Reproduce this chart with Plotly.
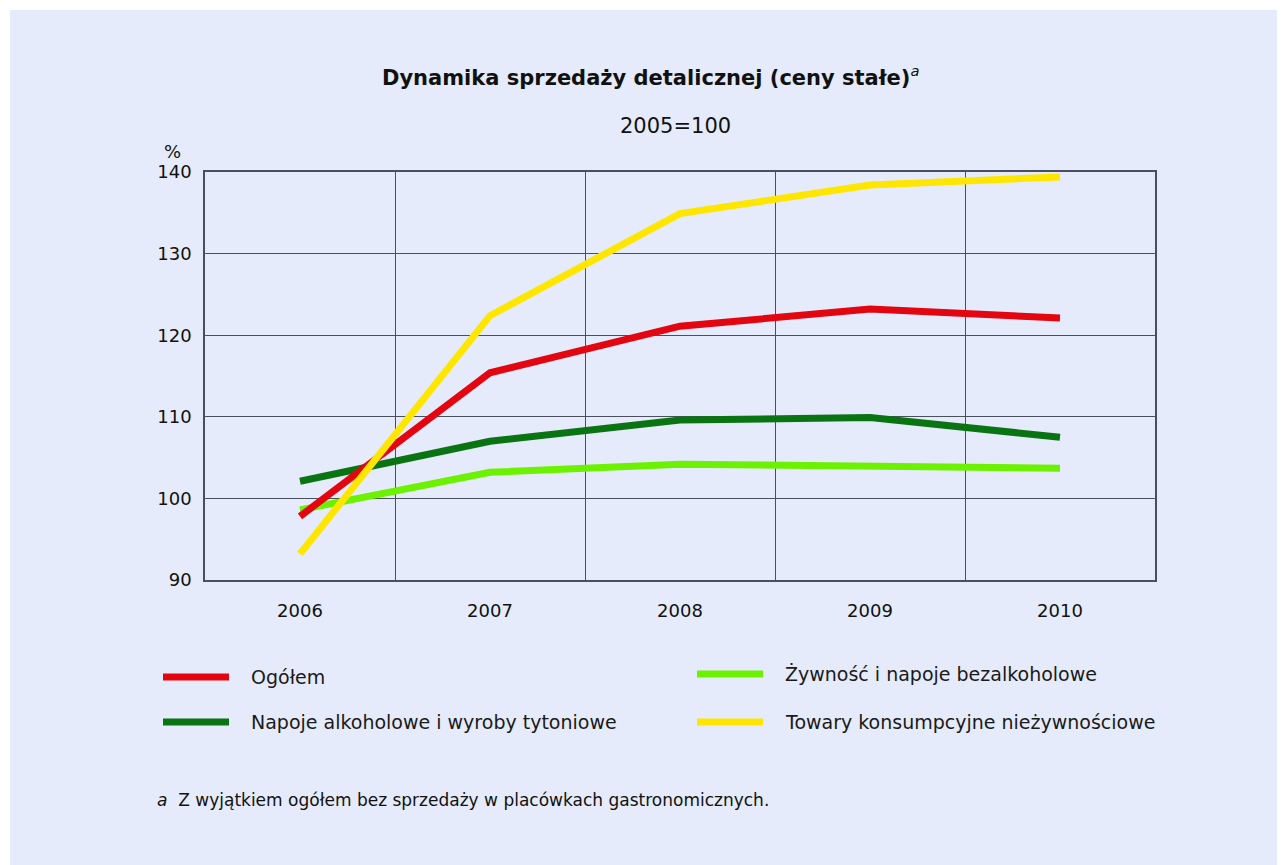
import plotly.graph_objects as go

years = [2006, 2007, 2008, 2009, 2010]
series_names = [
    "Ogółem",
    "Napoje alkoholowe i wyroby tytoniowe",
    "Żywność i napoje bezalkoholowe",
    "Towary konsumpcyjne nieżywnościowe",
]
ogolem = [97.8, 115.4, 121.1, 123.2, 122.1]
napoje_alk = [102.1, 107.0, 109.6, 109.9, 107.5]
zywnosc = [98.6, 103.2, 104.2, 104.0, 103.7]
towary = [93.2, 122.4, 134.9, 138.4, 139.4]
colors = ["#e30611", "#0a7412", "#6cf200", "#ffe600"]

FONT = "DejaVu Sans, Liberation Sans, Arial, sans-serif"
OFF = 8  # page body margin
W, H = 1285, 865
# plot area in screen pixels: x 205..1155, y 172..580
L, T = 205 - OFF, 172 - OFF
R = W - (1155 - OFF)
B = H - (580 - OFF)
PW, PH = W - L - R, H - T - B


def px(x):
    return (x - OFF - L) / PW


def py(y):
    return (H - B - (y - OFF)) / PH


fig = go.Figure()
draw_order = [2, 1, 0, 3]
values = [ogolem, napoje_alk, zywnosc, towary]
for i in draw_order:
    fig.add_trace(go.Scatter(
        x=years, y=values[i], mode="lines", name=series_names[i],
        line=dict(color=colors[i], width=7), showlegend=False,
    ))

shapes = []
annotations = []

# outer background panel
shapes.append(dict(type="rect", xref="paper", yref="paper", layer="below",
                   x0=px(10), x1=px(1280), y0=py(870), y1=py(10),
                   fillcolor="#e5ebfb", line=dict(width=0)))

# manual legend in two columns
legend_pos = [(163, 677), (163, 722), (697, 674), (697, 722)]
for i, (lx, ly) in enumerate(legend_pos):
    shapes.append(dict(type="line", xref="paper", yref="paper",
                       x0=px(lx), x1=px(lx + 66), y0=py(ly), y1=py(ly),
                       line=dict(color=colors[i], width=7)))
    annotations.append(dict(text=series_names[i], xref="paper", yref="paper",
                            x=px(lx + 86), y=py(ly), xanchor="left", yanchor="middle",
                            showarrow=False, font=dict(size=19, color="#1a1a1a")))

annotations += [
    dict(text="<b>Dynamika sprzedaży detalicznej (ceny stałe)</b><sup><i>a</i></sup>",
         xref="paper", yref="paper", x=px(650), y=py(76), xanchor="center", yanchor="middle",
         showarrow=False, font=dict(size=21, color="#111")),
    dict(text="2005=100", xref="paper", yref="paper", x=px(675), y=py(126),
         xanchor="center", yanchor="middle", showarrow=False, font=dict(size=21, color="#111")),
    dict(text="%", xref="paper", yref="paper", x=px(172), y=py(151),
         xanchor="center", yanchor="middle", showarrow=False, font=dict(size=18, color="#111")),
    dict(text="<i>a</i>  Z wyjątkiem ogółem bez sprzedaży w placówkach gastronomicznych.",
         xref="paper", yref="paper", x=px(155), y=py(800), xanchor="left", yanchor="middle",
         showarrow=False, font=dict(size=17, color="#111")),
]

fig.update_layout(
    width=W, height=H,
    margin=dict(l=L, r=R, t=T, b=B),
    paper_bgcolor="#ffffff",
    plot_bgcolor="#d7e3fb",
    font=dict(family=FONT, color="#111"),
    shapes=shapes,
    annotations=annotations,
)
fig.update_xaxes(
    range=[2005.5, 2010.5], tickvals=years, ticktext=[str(y) for y in years],
    showgrid=False, zeroline=False, ticks="",
    showline=True, linecolor="#4a4f5c", linewidth=1.5, mirror=True,
    minor=dict(tickvals=[2006.5, 2007.5, 2008.5, 2009.5], showgrid=True,
               gridcolor="#4a4f5c", gridwidth=1.2),
    tickfont=dict(size=18, color="#111"), ticklabelstandoff=14,
)
fig.update_yaxes(
    range=[90, 140], dtick=10, showgrid=True, gridcolor="#4a4f5c", gridwidth=1.2,
    zeroline=False, ticks="",
    showline=True, linecolor="#4a4f5c", linewidth=1.5, mirror=True,
    tickfont=dict(size=18, color="#111"), ticklabelstandoff=8,
)

fig.write_html("out.html")
